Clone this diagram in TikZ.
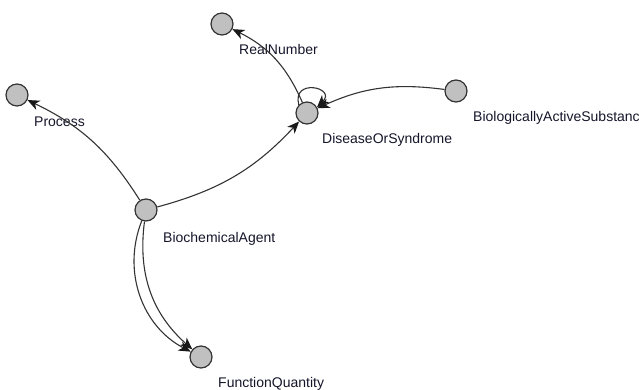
\documentclass[tikz,border=0pt]{standalone}
\usepackage{fontspec}
\setmainfont{Liberation Sans}
\usetikzlibrary{arrows.meta}
\definecolor{nodefill}{HTML}{C0C0C0}
\definecolor{nodeline}{HTML}{333333}
\definecolor{linkcol}{HTML}{333333}
\definecolor{labcol}{HTML}{15152A}
\tikzset{
  vert/.style={circle, draw=nodeline, fill=nodefill, line width=1.2pt, minimum size=22pt, inner sep=0pt},
  lab/.style={anchor=base west, inner sep=0pt, text=labcol, font=\fontsize{14}{16}\selectfont},
  lnk/.style={draw=linkcol, line width=1.1pt, -{Stealth[length=12pt,width=10pt,inset=3.5pt,color=black!90]}},
}
\begin{document}
\begin{tikzpicture}[x=1pt,y=-1pt]
\useasboundingbox (0,0) rectangle (639,390);
\node[vert] (rn)  at (222,24) {};
\node[vert] (pro) at (17,95) {};
\node[vert] (dis) at (307,113) {};
\node[vert] (bas) at (456,91) {};
\node[vert] (ba)  at (146,210) {};
\node[vert] (fq)  at (201,357) {};

\node[lab] (lrn)  at (239,55) {RealNumber};
\node[lab] (lpro) at (34,127) {Process};
\node[lab] (ldis) at (322,144) {DiseaseOrSyndrome};
\node[lab] (lbas) at (473,122) {BiologicallyActiveSubstanc};
\node[lab] (lba)  at (163,242) {BiochemicalAgent};
\node[lab] (lfq)  at (218,387) {FunctionQuantity};

\draw[lnk] (ba) to[bend right=16] (pro);
\draw[lnk] (ba) to[bend right=16] (dis);
\draw[lnk] (dis) to[bend right=20] (rn);
\draw[lnk] (bas) to[bend right=16] (dis);
\draw[lnk] (ba) to[bend right=28] (fq);
\draw[lnk] (ba) to[bend right=42] (fq);
\draw[lnk] (dis.135) .. controls +(-105:28) and +(-45:28) .. (dis.30);
\end{tikzpicture}
\end{document}
